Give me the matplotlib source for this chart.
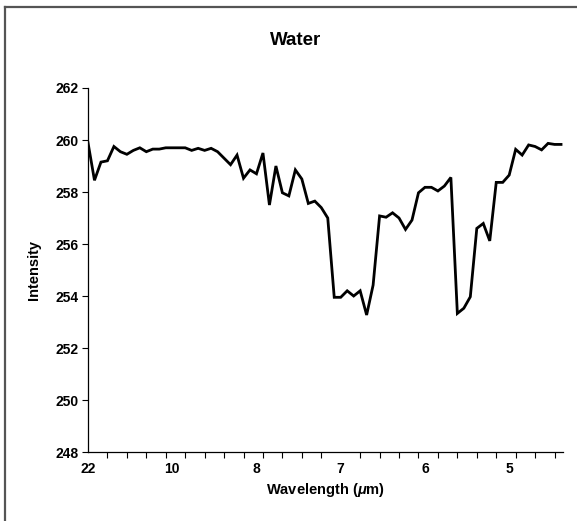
import numpy as np
import matplotlib
matplotlib.use('Agg')
import matplotlib.pyplot as plt
from matplotlib.lines import Line2D

plt.rcParams['font.family'] = ['Liberation Sans', 'DejaVu Sans']
plt.rcParams['mathtext.fontset'] = 'custom'
plt.rcParams['mathtext.rm'] = 'Liberation Sans:bold'
plt.rcParams['mathtext.it'] = 'Liberation Sans:bold:italic'

# intensity, one value per category
intensity = [259.9, 258.45, 259.15, 259.2, 259.75, 259.55, 259.45, 259.6, 259.7, 259.55,
             259.65, 259.65, 259.7, 259.7, 259.7, 259.7, 259.6, 259.68, 259.6, 259.68,
             259.55, 259.3, 259.05, 259.42, 258.53, 258.85, 258.7, 259.5, 257.5, 259.0,
             257.97, 257.85, 258.85, 258.5, 257.56, 257.65, 257.4, 257.0, 253.95, 253.95,
             254.2, 254.0, 254.2, 253.27, 254.42, 257.08, 257.03, 257.2, 257.0, 256.56,
             256.92, 257.97, 258.18, 258.18, 258.04, 258.23, 258.56, 253.33, 253.53, 253.97,
             256.6, 256.79, 256.12, 258.37, 258.37, 258.65, 259.64, 259.42, 259.81, 259.75,
             259.62, 259.87, 259.83, 259.83]
wl_labels = ['22', '10', '8', '7', '6', '5']
label_step = 13
tick_step = 3

x = np.arange(len(intensity))

fig = plt.figure(figsize=(5.77, 5.21), dpi=100)
ax = fig.add_axes([0.1525, 0.1324, 0.9757 - 0.1525, 0.8311 - 0.1324])

ax.plot(x, intensity, color='black', lw=2.0, solid_joinstyle='miter')

ax.set_xlim(0, len(intensity) - 0.7)
ax.set_ylim(248, 262)
ax.set_yticks(np.arange(248, 263, 2))

ax.set_xticks(np.arange(0, len(wl_labels) * label_step, label_step))
ax.set_xticklabels(wl_labels)
ax.set_xticks(np.arange(0, len(intensity), tick_step), minor=True)
ax.tick_params(axis='x', which='major', length=0, pad=7, labelsize=10)
ax.tick_params(axis='x', which='minor', length=4, width=0.8, direction='out')
ax.tick_params(axis='y', length=4, width=0.8, direction='out', labelsize=10, pad=3)
for lab in ax.get_xticklabels() + ax.get_yticklabels():
    lab.set_fontweight('bold')

for s in ['top', 'right']:
    ax.spines[s].set_visible(False)
for s in ['left', 'bottom']:
    ax.spines[s].set_linewidth(0.9)

ax.set_ylabel('Intensity', fontsize=10.5, fontweight='bold', labelpad=10)
ax.set_xlabel(r'Wavelength ($\mu$m)', fontsize=10.5, fontweight='bold', labelpad=4)
fig.text(0.512, 0.923, 'Water', ha='center', va='center', fontsize=13.5, fontweight='bold')

# frame of the screenshot (top and left edges)
fig.add_artist(Line2D([5 / 577, 1], [1 - 7 / 521, 1 - 7 / 521], transform=fig.transFigure,
                      color='#555555', lw=1.6))
fig.add_artist(Line2D([5 / 577, 5 / 577], [0, 1 - 7 / 521], transform=fig.transFigure,
                      color='#555555', lw=1.6))

fig.savefig('out.png', dpi=100)
